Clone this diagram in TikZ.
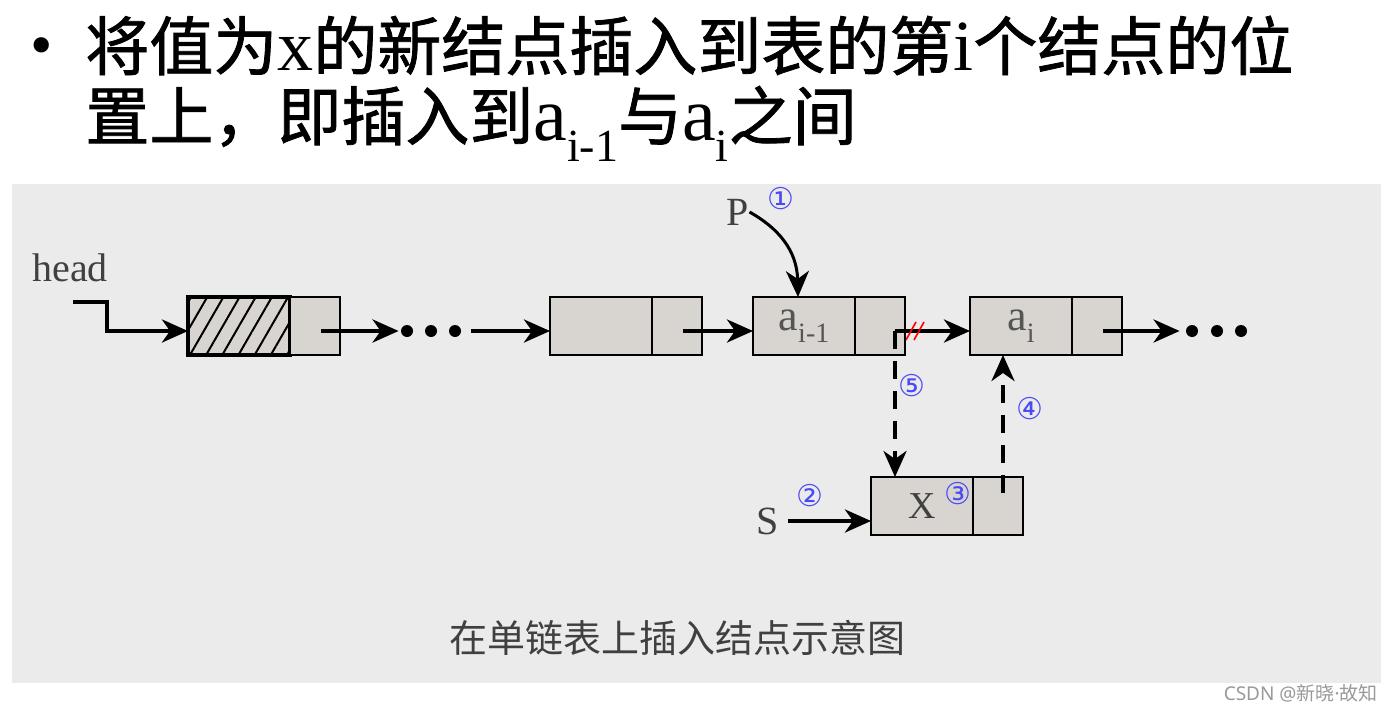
\documentclass[tikz,border=0pt]{standalone}
\usepackage{fontspec}
\setmainfont{Liberation Serif}
\newfontfamily\cjk{Noto Sans CJK SC}
\newfontfamily\cjkt{Noto Sans CJK SC}[FakeBold=1.2]
\newfontfamily\dvs{DejaVu Sans}
\newfontfamily\nsans{Noto Sans}
\usetikzlibrary{arrows.meta,patterns.meta}
\definecolor{panel}{HTML}{EBEBEB}
\definecolor{boxgray}{HTML}{D8D5D0}
\definecolor{circblue}{HTML}{4A4AF5}
\definecolor{lbl}{HTML}{555555}
\tikzset{
  datapart/.style={draw, line width=1.2pt, fill=boxgray, minimum width=51pt, minimum height=29pt, inner sep=0pt, outer sep=0pt, anchor=north west, text=lbl, font=\fontsize{22}{22}\selectfont},
  ptrpart/.style={draw, line width=1.2pt, fill=boxgray, minimum width=25pt, minimum height=29pt, inner sep=0pt, outer sep=0pt, anchor=west},
  conn/.style={line width=2pt, -{Stealth[length=13pt,width=11.5pt,inset=4pt]}},
  dconn/.style={conn, dash pattern=on 9pt off 6pt},
  bigdot/.style={circle, fill=black, minimum size=6pt, inner sep=0pt},
  circnum/.style={text=circblue, font=\dvs\fontsize{15}{15}\selectfont, inner sep=0pt},
  plainlbl/.style={text=black!75, font=\fontsize{20}{20}\selectfont, inner sep=0pt},
  titletxt/.style={anchor=base west, inner sep=0pt, font=\fontsize{32}{32}\selectfont}
}
\newcommand{\sbs}[1]{\raisebox{-0.28em}{\fontsize{14}{14}\selectfont #1}}
\begin{document}
\begin{tikzpicture}[x=0.5pt,y=-0.5pt]
\useasboundingbox (0,0) rectangle (1392,712);
\fill[white] (0,0) rectangle (1392,712);
% title
\node[titletxt] (bul) at (30,66) {•};
\node[titletxt] (t1) at (85,70) {\cjkt 将值为\rmfamily\fontsize{36}{36}\selectfont x\cjkt\fontsize{32}{32}\selectfont 的新结点插入到表的第\rmfamily\fontsize{36}{36}\selectfont i\cjkt\fontsize{32}{32}\selectfont 个结点的位};
\node[titletxt] (t2) at (85,140) {\cjkt 置上，即插入到\rmfamily\fontsize{38}{38}\selectfont a\raisebox{-0.28em}{\fontsize{23}{23}\selectfont i-1}\cjkt\fontsize{32}{32}\selectfont 与\rmfamily\fontsize{38}{38}\selectfont a\raisebox{-0.28em}{\fontsize{23}{23}\selectfont i}\cjkt\fontsize{32}{32}\selectfont 之间};
% panel
\fill[panel] (12,184) rectangle (1381,683);
% boxes
\node[datapart, line width=2pt, preaction={fill=boxgray}, pattern={Lines[angle=60,distance=7pt,line width=1pt]}] (n1d) at (188,297) {};
\node[ptrpart] (n1p) at (n1d.east) {};
\node[datapart] (n2d) at (550,297) {};
\node[ptrpart] (n2p) at (n2d.east) {};
\node[datapart] (n3d) at (753,297) {a\sbs{i-1}};
\node[ptrpart] (n3p) at (n3d.east) {};
\node[datapart] (n4d) at (970,297) {a\sbs{i}};
\node[ptrpart] (n4p) at (n4d.east) {};
\node[datapart, font=\fontsize{19}{19}\selectfont, text=black!75] (nxd) at (871,477) {X};
\node[ptrpart] (nxp) at (nxd.east) {};
% dots
\node[bigdot] (d1) at (407,331) {};
\node[bigdot] (d2) at (431,331) {};
\node[bigdot] (d3) at (455,331) {};
\node[bigdot] (e1) at (1192,331) {};
\node[bigdot] (e2) at (1217,331) {};
\node[bigdot] (e3) at (1241,331) {};
% labels
\node[plainlbl] (head) at (70,268) {head};
\node[plainlbl] (P) at (738,212) {P};
\node[plainlbl] (S) at (768,521) {S};
\node[circnum] (c1) at (781,199) {①};
\node[circnum] (c2) at (810,496) {②};
\node[circnum] (c3) at (958,494) {③};
\node[circnum] (c4) at (1030,409) {④};
\node[circnum] (c5) at (912,386) {⑤};
% connectors
\coordinate (hs) at (73,302);
\draw[conn] (hs) -- ++(34,0) |- ([yshift=-2.5pt]n1d.west);
\draw[conn] ([shift={(3pt,-2.5pt)}]n1p.center) -- ([xshift=-1pt]d1.west);
\draw[conn] ([xshift=5pt]d3.east) -- ([yshift=-2.5pt]n2d.west);
\draw[conn] ([shift={(3pt,-2.5pt)}]n2p.center) -- ([yshift=-2.5pt]n3d.west);
\coordinate (p3) at ([shift={(7.5pt,-2.5pt)}]n3p.center);
\draw[conn] (p3) -- (p3 -| n4d.west);
\draw[dconn] (p3) -- (p3 |- nxd.north);
\coordinate (px) at ([shift={(2.5pt,6.5pt)}]nxp.center);
\draw[dconn] (px) -- (px |- n4d.south);
\draw[conn] ([shift={(3pt,-2.5pt)}]n4p.center) -- ([xshift=-3pt]e1.west);
\draw[conn] ([xshift=4pt]S.east) -- (S.east -| nxd.west);
\draw[conn, line width=1.5pt] (P.east) .. controls (778,228) and (797,250) .. ([xshift=-3pt]n3d.north);
% broken link marks
\draw[red, line width=0.8pt] (906,340) -- (916,322);
\draw[red, line width=0.8pt] (914,340) -- (924,322);
% caption and watermark
\node[text=black!75, font=\cjk\fontsize{19}{19}\selectfont, inner sep=0pt] (cap) at (677,638) {在单链表上插入结点示意图};
\node[anchor=east, text=black!40, font=\cjk\fontsize{9.5}{9.5}\selectfont, inner sep=0pt] (wm) at (1378,693) {{\nsans CSDN @}新晓{\nsans ·}故知};
\end{tikzpicture}
\end{document}
